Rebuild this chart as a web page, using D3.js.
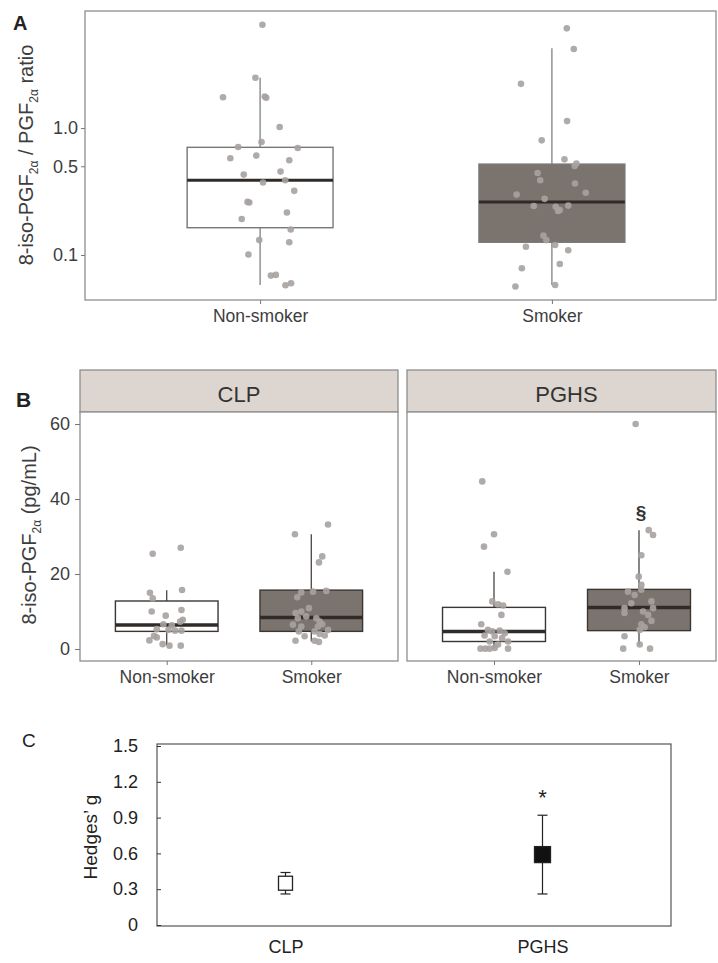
<!DOCTYPE html>
<html>
<head>
<meta charset="utf-8">
<script src="https://cdn.jsdelivr.net/npm/d3@7"></script>
<style>
  body { margin: 0; background: #fff; }
  svg { display: block; font-family: "Liberation Sans", Arial, sans-serif; }
</style>
</head>
<body>
<div id="chart"></div>
<script>
// ---- data ----
const groups = ["Non-smoker", "Smoker"];

// panel A: ratio, box stats [lower whisker, q1, median, q3, upper whisker]
const boxA = [
  [0.058, 0.164, 0.388, 0.705, 2.49],
  [0.058, 0.126, 0.262, 0.52, 4.25]
];
// points [value, jitter (fraction of category step)]
const ptsANon = [
  [6.52, 0.008], [2.49, -0.016], [1.75, -0.127], [1.77, 0.016], [1.73, 0.021],
  [1.02, 0.067], [0.776, 0.005], [0.709, -0.075], [0.697, 0.129], [0.578, -0.102],
  [0.607, -0.013], [0.557, 0.100], [0.430, -0.056], [0.454, 0.070], [0.372, 0.010],
  [0.388, 0.086], [0.320, 0.117], [0.262, -0.043], [0.259, -0.037], [0.216, 0.092],
  [0.192, -0.063], [0.159, 0.105], [0.131, -0.003], [0.126, 0.100], [0.101, -0.040],
  [0.0688, 0.037], [0.0697, 0.054], [0.0578, 0.087], [0.0599, 0.106]
];
const ptsASmk = [
  [6.10, 0.051], [4.20, 0.075], [2.23, -0.106], [1.135, 0.052], [0.800, -0.035],
  [0.567, 0.043], [0.525, 0.084], [0.503, 0.078], [0.443, -0.049], [0.388, -0.040],
  [0.366, 0.079], [0.299, -0.121], [0.309, 0.116], [0.277, -0.025], [0.243, -0.062],
  [0.240, 0.013], [0.245, 0.056], [0.226, 0.027], [0.222, 0.021], [0.142, -0.029],
  [0.131, -0.019], [0.120, 0.011], [0.116, -0.089], [0.109, 0.056], [0.085, 0.027],
  [0.0786, -0.103], [0.058, 0.011], [0.0564, -0.125]
];
const ticksA = [0.1, 0.5, 1.0];

// panel B: 8-iso-PGF2a (pg/mL)
const facets = ["CLP", "PGHS"];
const boxB = {
  CLP:  [[1.0, 4.7, 6.4, 12.8, 15.7], [2.0, 4.7, 8.4, 15.7, 30.6]],
  PGHS: [[0.1, 2.0, 4.7, 11.1, 20.6], [1.0, 4.9, 11.1, 15.9, 31.7]]
};
const ptsB = {
  CLP: [
    [[25.4, -0.097], [27.0, 0.097], [15.0, -0.116], [13.5, -0.097], [15.75, 0.106],
     [10.0, -0.104], [8.9, -0.007], [10.4, 0.102], [6.6, -0.023], [6.3, 0.035],
     [7.3, 0.093], [7.8, 0.111], [5.3, -0.069], [5.1, 0.012], [4.9, 0.058],
     [4.9, 0.102], [3.5, -0.088], [3.1, -0.069], [2.3, -0.120], [1.3, -0.028],
     [0.9, 0.019], [0.9, 0.097]],
    [[30.6, -0.113], [33.2, 0.116], [23.1, 0.053], [24.7, 0.076], [15.1, -0.069],
     [15.3, 0.012], [15.5, 0.104], [13.8, -0.097], [10.9, -0.016], [9.6, -0.109],
     [10.0, -0.069], [8.2, -0.093], [8.7, -0.035], [8.2, 0.035], [7.3, 0.058],
     [6.5, -0.127], [6.0, -0.069], [6.0, 0.046], [6.6, 0.076], [4.7, -0.086],
     [4.7, 0.023], [5.1, 0.116], [3.4, -0.046], [4.0, 0.058], [3.6, 0.093],
     [2.2, -0.109], [2.2, 0.023], [1.9, 0.053]]
  ],
  PGHS: [
    [[44.7, -0.081], [30.6, 0.0], [27.3, -0.069], [20.6, 0.093], [12.7, -0.012],
     [11.9, 0.028], [11.6, 0.063], [9.1, 0.051], [6.6, -0.088], [5.1, -0.042],
     [4.7, -0.012], [4.9, 0.039], [4.2, 0.074], [3.6, -0.065], [3.4, 0.005],
     [2.9, 0.056], [2.0, -0.030], [2.0, 0.097], [0.1, -0.093], [0.1, -0.060],
     [0.1, -0.030], [0.3, 0.005], [0.1, 0.097], [1.2, 0.028]],
    [[60.0, -0.023], [31.7, 0.067], [30.4, 0.097], [25.0, 0.016], [19.3, -0.002],
     [17.1, 0.016], [15.3, -0.076], [14.4, -0.030], [15.8, 0.016], [12.7, 0.086],
     [10.9, -0.100], [12.2, -0.053], [10.9, 0.097], [10.0, 0.028], [9.6, -0.100],
     [9.1, 0.063], [7.5, 0.086], [6.6, 0.016], [5.8, 0.039], [5.1, 0.005],
     [3.4, -0.100], [1.2, 0.005], [0.1, -0.109], [0.1, 0.076]]
  ]
};
const ticksB = [0, 20, 40, 60];
const sectionMarkB = 36.5; // position of the § mark (PGHS, Smoker)

// panel C: Hedges' g with CI
const groupsC = ["CLP", "PGHS"];
const gMean = [0.35, 0.59];
const gLow = [0.26, 0.26];
const gHigh = [0.44, 0.92];
const starC = 1.12;
const ticksC = [0, 0.3, 0.6, 0.9, 1.2, 1.5];

// ---- drawing ----
const W = 718, H = 963;
const svg = d3.select("#chart").append("svg").attr("width", W).attr("height", H);

const fillCol = ["#ffffff", "#7b736e"];
const ptCol = "#a7a2a0";
const txtCol = "#3d3d3d";
const font = "Arial, 'Liberation Sans', sans-serif";

function subTitle(g, x, y, parts, size) {
  // parts: array of [text, isSub]
  const t = g.append("text")
    .attr("transform", `translate(${x},${y}) rotate(-90)`)
    .attr("text-anchor", "middle")
    .attr("fill", txtCol)
    .style("font-family", font)
    .style("font-size", size + "px");
  let sub = false;
  parts.forEach(([s, isSub]) => {
    const ts = t.append("tspan").text(s);
    if (isSub && !sub) { ts.attr("dy", 5).style("font-size", (size * 0.6) + "px"); sub = true; }
    else if (!isSub && sub) { ts.attr("dy", -5); sub = false; }
  });
}

function drawBoxes(g, x, y, stats, pts, boxW, opts) {
  stats.forEach((s, i) => {
    const cx = x(groups[i]);
    const [lo, q1, med, q3, hi] = s;
    g.append("line").attr("x1", cx).attr("x2", cx).attr("y1", y(hi)).attr("y2", y(q3))
      .attr("stroke", opts.whisk).attr("stroke-width", 1.2);
    g.append("line").attr("x1", cx).attr("x2", cx).attr("y1", y(q1)).attr("y2", y(lo))
      .attr("stroke", opts.whisk).attr("stroke-width", 1.2);
    g.append("rect")
      .attr("x", cx - boxW / 2).attr("width", boxW)
      .attr("y", y(q3)).attr("height", y(q1) - y(q3))
      .attr("fill", fillCol[i]).attr("stroke", opts.edge).attr("stroke-width", 1.4);
    g.append("line").attr("x1", cx - boxW / 2).attr("x2", cx + boxW / 2)
      .attr("y1", y(med)).attr("y2", y(med))
      .attr("stroke", "#2f2b29").attr("stroke-width", opts.medW);
  });
  pts.forEach((arr, i) => {
    g.selectAll(null).data(arr).enter().append("circle")
      .attr("cx", d => x(groups[i]) + d[1] * x.step())
      .attr("cy", d => y(d[0]))
      .attr("r", opts.r)
      .attr("fill", ptCol)
      .attr("opacity", 0.9);
  });
}

function styleText(sel, size) {
  sel.attr("fill", txtCol).style("font-size", size + "px").style("font-family", font);
}

// ---------- Panel A ----------
{
  const L = 85, R = 716, T = 11, B = 300;
  const g = svg.append("g");
  const x = d3.scalePoint().domain(groups).range([L, 727]).padding(0.6);
  const y = d3.scaleLog().domain([0.0442, 8.36]).range([B, T]);

  g.append("rect").attr("x", L).attr("y", T).attr("width", R - L).attr("height", B - T)
    .attr("fill", "#fff").attr("stroke", "#8e8e8e").attr("stroke-width", 1.3);

  drawBoxes(g, x, y, boxA, [ptsANon, ptsASmk], x.step() * 0.5,
    { whisk: "#777", edge: "#777", medW: 3, r: 3.3 });

  const ya = g.append("g").attr("transform", `translate(${L},0)`)
    .call(d3.axisLeft(y).tickValues(ticksA).tickFormat(d3.format(".1f")).tickSize(4).tickPadding(3));
  ya.select(".domain").remove();
  ya.selectAll("line").attr("stroke", "#777");
  styleText(ya.selectAll("text"), 18);

  const xa = g.append("g").attr("transform", `translate(0,${B})`)
    .call(d3.axisBottom(x).tickSize(4).tickPadding(6));
  xa.select(".domain").remove();
  xa.selectAll("line").attr("stroke", "#777");
  styleText(xa.selectAll("text"), 17.5);

  subTitle(g, 33, 155, [["8-iso-PGF", false], ["2α", true], [" / PGF", false], ["2α", true], [" ratio", false]], 20);

  svg.append("text").attr("x", 13).attr("y", 30).text("A")
    .style("font-size", "20px").style("font-weight", "bold").attr("fill", "#222");
}

// ---------- Panel B ----------
{
  const T = 370, S = 412, B = 661;
  const panels = [[80, 398, 398], [407, 716, 726]];
  const y = d3.scaleLinear().domain([-3.2, 63.2]).range([B, S]);

  facets.forEach((f, k) => {
    const [L, R, Rs] = panels[k];
    const g = svg.append("g");
    const x = d3.scalePoint().domain(groups).range([L, Rs]).padding(0.6);

    g.append("rect").attr("x", L).attr("y", T).attr("width", R - L).attr("height", S - T)
      .attr("fill", "#ddd6d0").attr("stroke", "#8e8e8e").attr("stroke-width", 1.3);
    g.append("text").attr("x", (L + Rs) / 2).attr("y", S - 10)
      .attr("text-anchor", "middle").attr("fill", "#333")
      .style("font-family", font).style("font-size", "22px").text(f);
    g.append("rect").attr("x", L).attr("y", S).attr("width", R - L).attr("height", B - S)
      .attr("fill", "#fff").attr("stroke", "#8e8e8e").attr("stroke-width", 1.3);

    drawBoxes(g, x, y, boxB[f], ptsB[f], x.step() * 0.71,
      { whisk: "#3a3634", edge: "#3a3634", medW: 3.5, r: 3.3 });

    const xa = g.append("g").attr("transform", `translate(0,${B})`)
      .call(d3.axisBottom(x).tickSize(4).tickPadding(6));
    xa.select(".domain").remove();
    xa.selectAll("line").attr("stroke", "#777");
    styleText(xa.selectAll("text"), 17.5);

    if (k === 0) {
      const ya = g.append("g").attr("transform", `translate(${L},0)`)
        .call(d3.axisLeft(y).tickValues(ticksB).tickSize(5).tickPadding(5));
      ya.select(".domain").remove();
      ya.selectAll("line").attr("stroke", "#777");
      styleText(ya.selectAll("text"), 18);
    } else {
      g.append("text").attr("x", x("Smoker") + 2).attr("y", y(sectionMarkB))
        .attr("text-anchor", "middle").attr("dy", "0.35em").attr("fill", "#333")
        .style("font-size", "19px").style("font-weight", "bold").text("§");
    }
  });

  subTitle(svg, 36, 535, [["8-iso-PGF", false], ["2α", true], [" (pg/mL)", false]], 20);
  svg.append("text").attr("x", 16).attr("y", 407).text("B")
    .style("font-size", "21px").style("font-weight", "bold").attr("fill", "#222");
}

// ---------- Panel C ----------
{
  const L = 157, R = 671, T = 744, B = 926;
  const g = svg.append("g");
  const x = d3.scalePoint().domain(groupsC).range([L, R]).padding(0.5);
  const y = d3.scaleLinear().domain([0, 1.5]).range([B - 1, 746]);

  g.append("rect").attr("x", L).attr("y", T).attr("width", R - L).attr("height", B - T)
    .attr("fill", "#fff").attr("stroke", "#555").attr("stroke-width", 1.2);

  const ya = g.append("g").attr("transform", `translate(${L},0)`)
    .call(d3.axisLeft(y).tickValues(ticksC).tickFormat(d => d === 0 ? "0" : d3.format(".1f")(d))
      .tickSize(-4).tickPadding(19));
  ya.select(".domain").remove();
  ya.selectAll("line").attr("stroke", "#333");
  ya.selectAll("text").attr("fill", "#222").style("font-size", "18px");

  const xa = g.append("g").attr("transform", `translate(0,${B})`)
    .call(d3.axisBottom(x).tickSize(0).tickPadding(14));
  xa.select(".domain").remove();
  xa.selectAll("text").attr("fill", "#222").style("font-size", "18px");

  groupsC.forEach((c, i) => {
    const cx = x(c);
    g.append("line").attr("x1", cx).attr("x2", cx).attr("y1", y(gHigh[i])).attr("y2", y(gLow[i]))
      .attr("stroke", "#222").attr("stroke-width", 1.2);
    [gHigh[i], gLow[i]].forEach(v => g.append("line")
      .attr("x1", cx - 5).attr("x2", cx + 5).attr("y1", y(v)).attr("y2", y(v))
      .attr("stroke", "#222").attr("stroke-width", 1.2));
    const s = i === 0 ? 14 : 16;
    g.append("rect").attr("x", cx - s / 2).attr("y", y(gMean[i]) - s / 2)
      .attr("width", s).attr("height", s)
      .attr("fill", i === 0 ? "#fff" : "#111").attr("stroke", "#222").attr("stroke-width", 1.3);
  });
  g.append("text").attr("x", x("PGHS")).attr("y", y(starC)).attr("dy", "0.6em")
    .attr("text-anchor", "middle").attr("fill", "#222")
    .style("font-size", "22px").text("*");

  g.append("text").attr("transform", `translate(97,837) rotate(-90)`)
    .attr("text-anchor", "middle").attr("fill", "#222").style("font-size", "19px")
    .text("Hedges’ g");
  svg.append("text").attr("x", 22).attr("y", 747).text("C")
    .style("font-size", "19px").attr("fill", "#222");
}
</script>
</body>
</html>
